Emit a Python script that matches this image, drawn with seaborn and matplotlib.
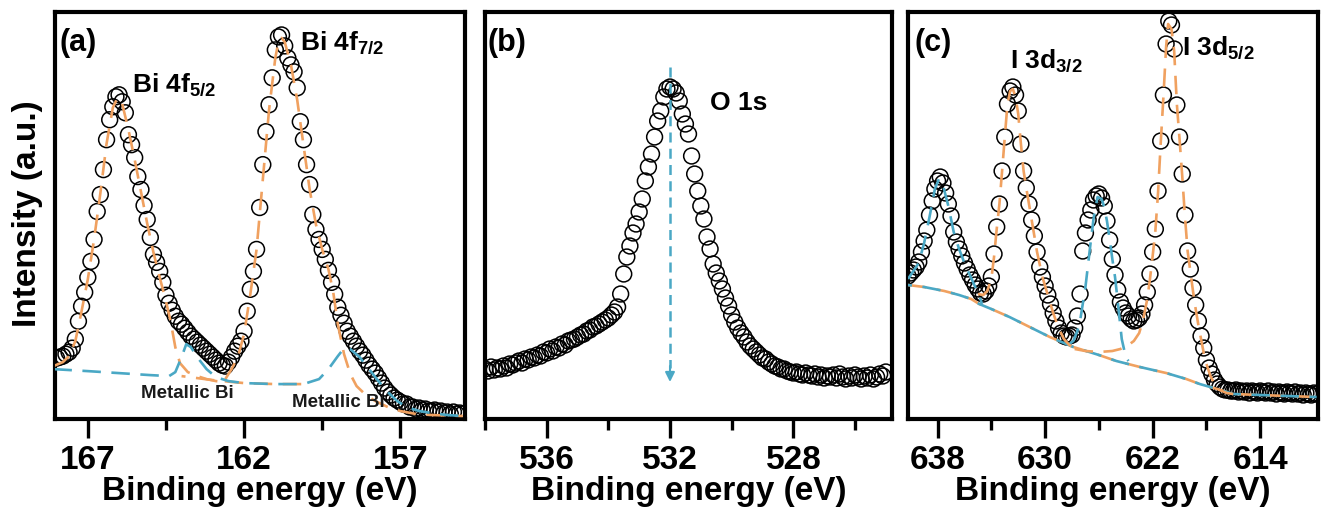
import numpy as np
import matplotlib
matplotlib.use("Agg")
import matplotlib.pyplot as plt
from matplotlib.ticker import FixedLocator
import seaborn as sns

sns.set_style("white")
plt.rcParams["font.family"] = ["Liberation Sans", "DejaVu Sans"]
plt.rcParams["font.weight"] = "bold"
plt.rcParams["text.color"] = "black"
plt.rcParams["axes.labelcolor"] = "black"
plt.rcParams["xtick.color"] = "black"
plt.rcParams["mathtext.fontset"] = "custom"
plt.rcParams["mathtext.rm"] = "Liberation Sans:bold"
plt.rcParams["mathtext.it"] = "Liberation Sans:bold"
plt.rcParams["mathtext.bf"] = "Liberation Sans:bold"

ORANGE = "#F0A160"
BLUE = "#4AA8C5"

# ---------------- Panel (a): Bi 4f ----------------
a_start, a_end = 168.0, 155.0
a_intensity = [
    61, 62, 63, 65, 67, 71, 80, 98, 113, 127,
    142, 158, 180, 208, 225, 250, 280, 300, 313, 323,
    325, 318, 307, 285, 275, 262, 243, 230, 214, 200,
    182, 165, 157, 148, 137, 124, 116, 109, 103, 98,
    95, 91, 87, 83, 80, 77, 74, 71, 68, 65,
    62, 59, 56, 54, 53, 57, 62, 68, 73, 78,
    88, 108, 130, 148, 170, 212, 255, 288, 315, 342,
    370, 383, 385, 374, 362, 355, 348, 332, 298, 280,
    255, 235, 205, 190, 180, 170, 160, 149, 137, 125,
    112, 104, 96, 88, 83, 78, 73, 68, 64, 59,
    54, 50, 46, 41, 36, 31, 27, 24, 21, 19,
    17, 15, 15, 12, 12, 10, 11, 9, 10, 8,
    8, 9, 7, 8, 6, 7, 5, 7, 5, 6,
    5,
]
a_bi3_52_E = [168.1, 167.8, 167.6, 167.4, 167.2, 167.0, 166.8, 166.6, 166.4, 166.2,
              166.05, 165.9, 165.7, 165.5, 165.3, 165.1, 164.9, 164.7, 164.5, 164.35,
              164.2, 164.05, 163.8, 163.5, 163.2, 162.9, 162.6]
a_bi3_52_I = [53, 57, 63, 78, 108, 140, 180, 226, 276, 312,
              322, 316, 290, 260, 228, 196, 167, 142, 118, 98,
              72, 56, 47, 43, 40, 38, 37]
a_bi3_72_E = [162.6, 162.4, 162.2, 162.0, 161.8, 161.6, 161.4, 161.2, 161.0, 160.9,
              160.8, 160.7, 160.5, 160.3, 160.1, 159.9, 159.7, 159.5, 159.3, 159.15,
              159.0, 158.8, 158.6, 158.4, 158.1, 157.8, 157.4, 157.0, 156.5, 156.0, 155.0]
a_bi3_72_I = [40, 50, 62, 85, 125, 170, 240, 310, 362, 378,
              382, 378, 355, 320, 275, 230, 195, 170, 150, 128,
              95, 65, 45, 33, 24, 18, 12, 8, 5, 4, 3]
a_metal_E = [168.1, 167.0, 166.0, 165.0, 164.4, 164.2, 164.0, 163.85, 163.7, 163.5,
             163.2, 162.9, 162.5, 162.0, 161.0, 160.3, 160.0, 159.6, 159.3, 159.0,
             158.8, 158.6, 158.3, 158.0, 157.7, 157.4, 157.1, 156.8, 156.4, 156.0,
             155.5, 155.0]
a_metal_I = [50, 48, 46, 44, 43, 47, 62, 75, 72, 62,
             50, 42, 38, 36, 35, 35, 36, 40, 50, 63,
             71, 70, 62, 50, 38, 27, 18, 12, 8, 6,
             4, 3]
a_bg_E = [164.0, 163.0, 162.0, 161.0, 160.0]
a_bg_I = [43, 39, 36, 35, 35]

# ---------------- Panel (b): O 1s ----------------
b_start, b_end = 538.0, 525.0
b_intensity = [
    50, 48, 52, 49, 51, 50, 53, 51, 55, 54,
    56, 58, 56, 60, 59, 62, 61, 64, 63, 67,
    66, 70, 68, 72, 71, 75, 74, 78, 79, 80,
    82, 84, 85, 88, 89, 92, 93, 95, 97, 99,
    101, 104, 107, 112, 125, 145, 162, 173, 186, 195,
    207, 220, 238, 252, 265, 282, 298, 308, 322, 330,
    332, 330, 326, 318, 305, 295, 285, 263, 245, 228,
    213, 200, 182, 170, 155, 146, 138, 130, 121, 113,
    104, 97, 91, 86, 82, 77, 73, 70, 67, 64,
    61, 60, 57, 55, 53, 52, 50, 50, 48, 47,
    46, 47, 45, 44, 46, 44, 43, 45, 42, 44,
    41, 43, 42, 44, 41, 45, 42, 40, 43, 41,
    44, 42, 40, 43, 41, 44, 40, 42, 45, 43,
    47,
]
b_peak_E = 532.0
b_arrow_top, b_arrow_bottom = 352, 37

# ---------------- Panel (c): I 3d ----------------
c_start, c_end = 640.2, 609.8
c_intensity = [
    143, 146, 149, 152, 157, 167, 178, 189, 204, 218,
    230, 238, 242, 236, 226, 215, 203, 187, 177, 170,
    163, 156, 150, 144, 139, 134, 130, 126, 125, 128,
    133, 142, 165, 192, 215, 248, 282, 315, 328, 332,
    324, 308, 275, 248, 231, 215, 199, 183, 167, 152,
    142, 133, 124, 115, 106, 98, 91, 86, 83, 82,
    83, 84, 91, 103, 125, 168, 186, 199, 209, 219,
    223, 225, 221, 213, 198, 179, 160, 144, 129, 117,
    111, 106, 103, 100, 98, 99, 101, 105, 114, 127,
    145, 167, 190, 228, 278, 324, 375, 398, 394, 370,
    314, 282, 245, 204, 168, 150, 131, 114, 98, 83,
    71, 59, 51, 45, 39, 35, 32, 30, 29, 29,
    28, 28, 29, 27, 28, 27, 28, 26, 28, 27,
    26, 28, 27, 26, 28, 26, 27, 25, 27, 26,
    25, 27, 26, 25, 27, 25, 26, 24, 26, 25,
    24, 26, 25,
]
c_bg_E = [640.2, 639.0, 637.5, 636.4, 635.5, 634.9, 634.0, 632.65, 631.0, 629.65,
          627.9, 626.0, 624.7, 622.95, 621.0, 619.5, 618.5, 617.2, 616.0, 614.0,
          612.0, 609.8]
c_bg_I = [134, 132, 128, 124, 120, 115, 110, 102, 91, 82,
          72, 64, 58, 52, 46, 40, 35, 30, 25, 24,
          23, 22]
c_sat1_E = [640.2, 639.8, 639.4, 639.0, 638.6, 638.2, 637.9, 637.6, 637.2, 636.8,
            636.4, 636.0, 635.6, 635.2, 634.9, 634.7]
c_sat1_I = [140, 148, 156, 176, 202, 230, 240, 234, 213, 187,
            170, 156, 144, 132, 124, 115]
c_d32_E = [635.0, 634.6, 634.3, 634.0, 633.8, 633.6, 633.4, 633.2, 633.0, 632.8,
           632.6, 632.4, 632.2, 632.0, 631.8, 631.6, 631.4, 631.0, 630.6, 630.2,
           629.8, 629.4, 629.0, 628.6, 628.2, 627.8]
c_d32_I = [125, 124, 128, 140, 162, 190, 215, 248, 282, 315,
           328, 330, 322, 305, 275, 248, 231, 199, 167, 142,
           124, 106, 91, 80, 74, 71]
c_sat2_E = [628.2, 627.9, 627.6, 627.4, 627.2, 627.0, 626.8, 626.6, 626.4, 626.1,
            625.8, 625.6, 625.4, 625.2, 625.0, 624.8, 624.6, 624.3, 624.0, 623.8]
c_sat2_I = [75, 78, 88, 98, 115, 132, 155, 178, 200, 222,
            220, 212, 198, 180, 160, 142, 118, 80, 62, 58]
c_d52_E = [627.8, 627.0, 626.0, 625.0, 624.4, 623.8, 623.4, 623.0, 622.7, 622.4,
           622.2, 622.0, 621.8, 621.6, 621.4, 621.2, 621.0, 620.85, 620.6, 620.4,
           620.2, 620.0, 619.8, 619.6, 619.4, 619.2, 619.0, 618.8, 618.6, 618.4,
           618.2, 618.0, 617.7, 617.4, 617.0, 616.5, 616.0]
c_d52_I = [70, 68, 67, 68, 70, 74, 78, 86, 100, 120,
           140, 163, 188, 226, 276, 322, 372, 395, 390, 368,
           315, 280, 243, 203, 168, 148, 128, 110, 94, 80,
           66, 55, 43, 35, 29, 26, 25]

# tick values / labels
a_major, a_minor = [167, 162, 157], [164.5, 159.5]
b_major, b_minor = [536, 532, 528], [538, 534, 530, 526]
c_major, c_minor = [638, 630, 622, 614], [634, 626, 618]

# ---------------- Figure ----------------
W, H = 1322, 522
fig = plt.figure(figsize=(W / 100, H / 100), dpi=100)
bottom, height = 103 / H, 407 / H
ax_a = fig.add_axes([55 / W, bottom, 410 / W, height])
ax_b = fig.add_axes([485 / W, bottom, 407 / W, height])
ax_c = fig.add_axes([908 / W, bottom, 410 / W, height])

DASH_O = (0, (7, 4))
DASH_B = (5.5, (7, 4))


def scatter(ax, start, end, vals):
    x = np.linspace(start, end, len(vals))
    sns.scatterplot(x=x, y=vals, ax=ax, marker="o", s=130,
                    facecolor="none", edgecolor="black", linewidth=1.1,
                    legend=False, zorder=2)


def fitline(ax, E, I, color, ls, lw=1.9):
    sns.lineplot(x=E, y=I, ax=ax, color=color, linestyle=ls, linewidth=lw,
                 estimator=None, sort=False, legend=False, zorder=3)


def style(ax, xlim, ylim, major, minor):
    ax.set_xlim(*xlim)
    ax.set_ylim(*ylim)
    ax.set_yticks([])
    ax.xaxis.set_major_locator(FixedLocator(major))
    ax.xaxis.set_minor_locator(FixedLocator(minor))
    ax.set_xticklabels([str(v) for v in major])
    ax.tick_params(axis="x", which="major", direction="out", length=14,
                   width=2.4, labelsize=24, pad=5, bottom=True,
                   colors="black")
    ax.tick_params(axis="x", which="minor", direction="out", length=8,
                   width=2.4, bottom=True, colors="black")
    for sp in ax.spines.values():
        sp.set_linewidth(3)
        sp.set_color("black")
    ax.set_xlabel("Binding energy (eV)", fontsize=24, fontweight="bold",
                  labelpad=0, color="black")
    ax.set_ylabel("")


# Panel (a)
scatter(ax_a, a_start, a_end, a_intensity)
fitline(ax_a, a_bi3_52_E, a_bi3_52_I, ORANGE, DASH_O)
fitline(ax_a, a_bi3_72_E, a_bi3_72_I, ORANGE, DASH_O)
fitline(ax_a, a_bg_E, a_bg_I, ORANGE, DASH_B)
fitline(ax_a, a_metal_E, a_metal_I, BLUE, DASH_O)
style(ax_a, (168.05, 154.93), (0, 408), a_major, a_minor)
ax_a.text(0.012, 0.925, "(a)", transform=ax_a.transAxes, fontsize=22,
          fontweight="bold", ha="left", va="center")
ax_a.text(0.188, 0.804, "Bi 4f$_{5/2}$", transform=ax_a.transAxes,
          fontsize=19, fontweight="bold", ha="left", va="baseline")
ax_a.text(0.598, 0.907, "Bi 4f$_{7/2}$", transform=ax_a.transAxes,
          fontsize=19, fontweight="bold", ha="left", va="baseline")
ax_a.text(0.322, 0.062, "Metallic Bi", transform=ax_a.transAxes,
          fontsize=13.5, fontweight="bold", ha="center", va="center",
          color="#1a1a1a")
ax_a.text(0.690, 0.040, "Metallic Bi", transform=ax_a.transAxes,
          fontsize=13.5, fontweight="bold", ha="center", va="center",
          color="#1a1a1a")

# Panel (b)
scatter(ax_b, b_start, b_end, b_intensity)
fitline(ax_b, [b_peak_E, b_peak_E], [b_arrow_top, b_arrow_bottom + 14], BLUE,
        (0, (4, 2.5)), lw=1.8)
ax_b.annotate("", xy=(b_peak_E, b_arrow_bottom), xytext=(b_peak_E, b_arrow_bottom + 16),
              arrowprops=dict(arrowstyle="-|>", color=BLUE, lw=1.5,
                              mutation_scale=14, shrinkA=0, shrinkB=0), zorder=3)
style(ax_b, (538.0, 524.8), (0, 407), b_major, b_minor)
ax_b.text(0.006, 0.925, "(b)", transform=ax_b.transAxes, fontsize=22,
          fontweight="bold", ha="left", va="center")
ax_b.text(0.553, 0.776, "O 1s", transform=ax_b.transAxes, fontsize=19,
          fontweight="bold", ha="left", va="center")

# Panel (c)
scatter(ax_c, c_start, c_end, c_intensity)
fitline(ax_c, c_bg_E, c_bg_I, ORANGE, DASH_O)
fitline(ax_c, c_bg_E, c_bg_I, BLUE, DASH_B)
fitline(ax_c, c_sat1_E, c_sat1_I, BLUE, DASH_O)
fitline(ax_c, c_sat2_E, c_sat2_I, BLUE, DASH_O)
fitline(ax_c, c_d32_E, c_d32_I, ORANGE, DASH_O)
fitline(ax_c, c_d52_E, c_d52_I, ORANGE, DASH_O)
style(ax_c, (640.2, 609.7), (0, 407), c_major, c_minor)
ax_c.text(0.017, 0.925, "(c)", transform=ax_c.transAxes, fontsize=22,
          fontweight="bold", ha="left", va="center")
ax_c.text(0.249, 0.862, "I 3d$_{3/2}$", transform=ax_c.transAxes,
          fontsize=19, fontweight="bold", ha="left", va="baseline")
ax_c.text(0.668, 0.894, "I 3d$_{5/2}$", transform=ax_c.transAxes,
          fontsize=19, fontweight="bold", ha="left", va="baseline")

fig.text(28 / W, 1 - 214 / H, "Intensity (a.u.)", rotation=90, fontsize=24,
         fontweight="bold", ha="center", va="center", color="black")

fig.savefig("out.png", dpi=100)
